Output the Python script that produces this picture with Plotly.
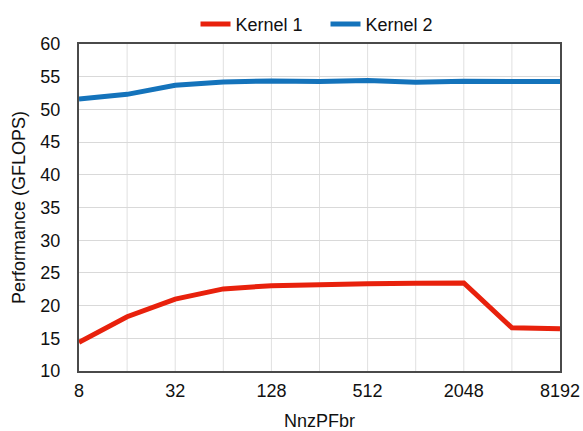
import plotly.graph_objects as go

# NnzPFbr sweep (powers of two) and measured performance in GFLOPS
nnz_pfbr = [8, 16, 32, 64, 128, 256, 512, 1024, 2048, 4096, 8192]
kernel1 = [14.4, 18.3, 21.0, 22.55, 23.05, 23.25, 23.35, 23.4, 23.45, 16.6, 16.45]
kernel2 = [51.57, 52.3, 53.7, 54.2, 54.35, 54.25, 54.4, 54.15, 54.3, 54.35, 54.25]
x_ticks = [8, 32, 128, 512, 2048, 8192]

FONT = "Liberation Sans, Arial, Helvetica, sans-serif"

fig = go.Figure()
fig.add_trace(go.Scatter(x=nnz_pfbr, y=kernel1, mode="lines", name="Kernel 1",
                         line=dict(color="#e8210c", width=5)))
fig.add_trace(go.Scatter(x=nnz_pfbr, y=kernel2, mode="lines", name="Kernel 2",
                         line=dict(color="#1473bb", width=5)))

fig.update_layout(
    width=583, height=431,
    margin=dict(l=79, r=23, t=44, b=60, autoexpand=False),
    paper_bgcolor="white", plot_bgcolor="white",
    font=dict(family=FONT, size=18, color="#111"),
    showlegend=True,
    legend=dict(orientation="h", x=0.5125, xanchor="center", y=1.06, yanchor="middle",
                font=dict(size=18), traceorder="normal", entrywidth=85,
                bgcolor="rgba(0,0,0,0)"),
    xaxis=dict(
        type="log", range=[0.90309, 3.91339], automargin=False,
        tickvals=x_ticks, ticktext=[str(v) for v in x_ticks],
        showgrid=False, ticks="", zeroline=False, ticklabelstandoff=2,
        showline=True, linecolor="#4a4a4a", linewidth=2, mirror=True,
        title=dict(text="NnzPFbr", font=dict(size=18), standoff=17),
        tickfont=dict(size=18),
    ),
    yaxis=dict(
        range=[10, 60], dtick=5, tick0=10, automargin=False,
        showgrid=True, gridcolor="#d9d9d9", gridwidth=1,
        zeroline=False, ticks="", ticklabelstandoff=13,
        showline=True, linecolor="#4a4a4a", linewidth=2, mirror=True,
        title=dict(text="Performance (GFLOPS)", font=dict(size=18), standoff=10),
        tickfont=dict(size=18),
    ),
)

# vertical gridlines at every power of two
for v in nnz_pfbr[1:-1]:
    fig.add_vline(x=v, line=dict(color="#e0e0e0", width=1), layer="below")

fig.write_html("out.html")
